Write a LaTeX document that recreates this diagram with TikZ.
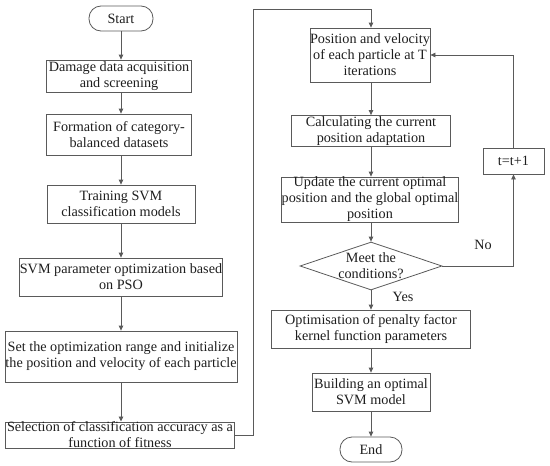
\documentclass[tikz,border=0pt]{standalone}
\usepackage{fontspec}
\setmainfont{Liberation Serif}
\usetikzlibrary{arrows.meta,shapes.geometric}
\definecolor{linec}{HTML}{5A5A5A}
\definecolor{txtc}{HTML}{1E1E1E}
\begin{document}
\begin{tikzpicture}[x=1pt,y=-1pt,
 box/.style={draw=linec, line width=0.8pt, align=center, inner sep=0pt, font=\fontsize{14.2}{16}\selectfont, text=txtc},
 term/.style={box, rounded corners=12pt},
 conn/.style={draw=linec, line width=0.8pt, -{Triangle[length=5pt,width=4.5pt]}},
 lbl/.style={font=\fontsize{14.2}{16}\selectfont, text=txtc}
]
\useasboundingbox (0,0) rectangle (550,466);
% left column
\node[term, minimum width=64pt, minimum height=25pt] (start) at (121,18.5) {Start};
\node[box, minimum width=145pt, minimum height=32pt] (d1) at (119,76) {Damage data acquisition\\and screening};
\node[box, minimum width=145pt, minimum height=41pt] (d2) at (119,134.5) {Formation of category-\\balanced datasets};
\node[box, minimum width=148pt, minimum height=38pt] (d3) at (121,204) {Training SVM\\classification models};
\node[box, minimum width=203pt, minimum height=38pt] (d4) at (121,277) {SVM parameter optimization based\\on PSO};
\node[box, minimum width=232pt, minimum height=51pt] (d5) at (121,356.5) {Set the optimization range and initialize\\the position and velocity of each particle};
\node[box, minimum width=229pt, minimum height=26pt] (d6) at (120,435) {Selection of classification accuracy as a\\function of fitness};
% right column
\node[box, minimum width=120pt, minimum height=54pt] (r1) at (370,55) {Position and velocity\\of each particle at T\\iterations};
\node[box, minimum width=159pt, minimum height=31pt] (r2) at (371,131) {Calculating the current\\position adaptation};
\node[box, minimum width=164pt, minimum height=45pt] (r3) at (370,199.5) {Update the current optimal\\position and the global optimal\\position};
\node[draw=linec, line width=0.8pt, diamond, inner sep=0pt, minimum width=142pt, minimum height=48pt,
      label={[lbl, align=center]center:Meet the\\conditions?}] (dia) at (371,266) {};
\node[box, minimum width=199pt, minimum height=38pt] (r4) at (371,329) {Optimisation of penalty factor\\kernel function parameters};
\node[box, minimum width=118pt, minimum height=38pt] (r5) at (371,392) {Building an optimal\\SVM model};
\node[term, minimum width=62pt, minimum height=25pt] (end) at (371,449.5) {End};
\node[box, minimum width=61pt, minimum height=26pt] (t) at (513.5,161) {t=t+1};
% labels
\node[lbl] (no) at (483,245) {No};
\node[lbl] (yes) at (403,297) {Yes};
% connectors
\coordinate (c1) at (253,9);
\draw[conn] (start.south) -- (start.south |- d1.north);
\draw[conn] (d1.south -| start.south) -- (start.south |- d2.north);
\draw[conn] (d2.south -| start.south) -- (d3.north);
\draw[conn] (d3.south) -- (d4.north);
\draw[conn] (d4.south) -- (d5.north);
\draw[conn] (d5.south) -- (d5.south |- d6.north);
\draw[conn] (d6.east) -| (c1) -| (r1.north -| r2.north);
\draw[conn] (r1.south -| r2.north) -- (r2.north);
\draw[conn] (r2.south) -- (r2.south |- r3.north);
\draw[conn] (r3.south -| dia.north) -- (dia.north);
\draw[conn] (dia.south) -- (r4.north);
\draw[conn] (r4.south) -- (r5.north);
\draw[conn] (r5.south) -- (end.north);
\draw[conn] (dia.east) -| (t.south);
\draw[conn] (t.north) |- (r1.east);
\end{tikzpicture}
\end{document}
